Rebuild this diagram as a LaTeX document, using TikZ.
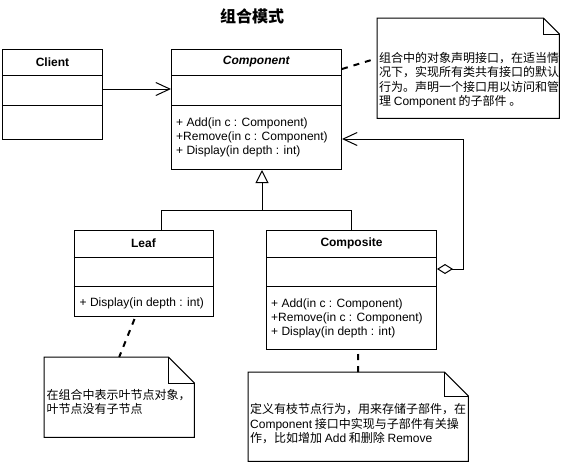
\documentclass[tikz,border=0pt]{standalone}
\usepackage{fontspec}
\setmainfont{Liberation Sans}
\newfontfamily\cjk{Noto Sans CJK SC}
\usetikzlibrary{arrows.meta, positioning, calc}
\newcommand{\notefold}[2]{%
  \draw[line width=1pt, fill=white] (#1.north west) -- ($(#1.north east)+(-#2,0)$)
    -- ($(#1.north east)+(0,#2)$) -- (#1.south east) -- (#1.south west) -- cycle;
  \draw[line width=1pt] ($(#1.north east)+(-#2,0)$) -- ++(0,#2) -- ++(#2,0);}

\begin{document}
\begin{tikzpicture}[
  x=1pt, y=-1pt,
  cls/.style={rectangle, draw, line width=1pt, anchor=north west, inner sep=0pt},
  hdr/.style={font=\fontsize{12}{14}\selectfont\bfseries},
  ops/.style={font=\fontsize{12}{14}\selectfont, align=left, anchor=west, inner sep=0pt},
  notebox/.style={rectangle, anchor=north west, inner sep=0pt},
  notetxt/.style={font=\fontsize{12}{14.5}\selectfont\cjk, align=left, anchor=west, inner sep=0pt},
  sep/.style={line width=1pt},
  assoc/.style={-{Straight Barb[length=14pt, width=13pt]}, line width=1pt},
  inherit/.style={-{Triangle[open, length=13pt, width=13pt]}, line width=1pt},
  aggr/.style={{Diamond[open, length=16pt, width=10pt]}-{Straight Barb[length=14pt, width=13pt]}, line width=1pt},
  notelink/.style={line width=2pt, dash pattern=on 6pt off 6pt}
]
  \useasboundingbox (0,0) rectangle (570,464);

  % Title
  \node[font=\fontsize{16}{18}\selectfont\cjk\bfseries] (title) at (252,16) {组合模式};

  % Row 1: client and component
  \node[cls, minimum width=100pt, minimum height=90pt] (client) at (2,49) {};
  \node[hdr] (clientname) at ($(client.north)+(0,13)$) {Client};

  \node[cls, minimum width=170pt, minimum height=120pt] (component) at (171,49) {};
  \node[hdr] (componentname) at ($(component.north)+(0,13)$) {\textit{Component}};
  \node[ops] (componentops) at ($(component.north west)+(5,88)$)
    {+ Add(in c : Component)\\+Remove(in c : Component)\\+ Display(in depth : int)};

  % Row 2: leaf and composite
  \node[cls, minimum width=139pt, minimum height=86pt] (leaf) at (73.5,230) {};
  \node[hdr] (leafname) at ($(leaf.north)+(0,13)$) {Leaf};
  \node[ops] (leafops) at ($(leaf.north west)+(6,73)$) {+ Display(in depth : int)};

  \node[cls, minimum width=170pt, minimum height=119pt] (composite) at (266,230) {};
  \node[hdr] (compositename) at ($(composite.north)+(0,13)$) {Composite};
  \node[ops] (compositeops) at ($(composite.north west)+(5,88)$)
    {+ Add(in c : Component)\\+Remove(in c : Component)\\+ Display(in depth : int)};

  \foreach \c/\a in {client/26, component/26, leaf/27, composite/27} {
    \draw[sep] ($(\c.north west)+(0,\a)$) -- ($(\c.north east)+(0,\a)$);
    \draw[sep] ($(\c.north west)+(0,56)$) -- ($(\c.north east)+(0,56)$);
  }

  % Connectors
  \draw[assoc] ($(client.north east)+(0,40)$) -- ($(component.north west)+(0,40)$);
  \draw[inherit] ($(leaf.north)+(18,0)$) |- ($(component.south)+(5.5,40)$) -- ($(component.south)+(5.5,0)$);
  \draw[line width=1pt] (composite.north) |- ($(component.south)+(5.5,40)$);
  \draw[aggr] ($(composite.north east)+(0,39)$) -- ++(26,0) |- ($(component.north east)+(0,90)$);

  % Notes
  \node[notebox, minimum width=182pt, minimum height=100pt] (compnote) at (377,18) {};
  \notefold{compnote}{16}
  \node[notetxt] (compnotetxt) at ($(compnote.north west)+(2,62)$)
    {组合中的对象声明接口，在适当情\\况下，实现所有类共有接口的默认\\行为。声明一个接口用以访问和管\\理 \textrm{Component} 的子部件 。};

  \node[notebox, minimum width=150pt, minimum height=80pt] (leafnote) at (44,357) {};
  \notefold{leafnote}{26}
  \node[notetxt] (leafnotetxt) at ($(leafnote.north west)+(2.5,45)$)
    {在组合中表示叶节点对象，\\叶节点没有子节点};

  \node[notebox, minimum width=220pt, minimum height=89pt] (compositenote) at (248,372) {};
  \notefold{compositenote}{24}
  \node[notetxt] (compositenotetxt) at ($(compositenote.north west)+(2,52)$)
    {定义有枝节点行为，用来存储子部件，在\\\textrm{Component} 接口中实现与子部件有关操\\作，比如增加 \textrm{Add} 和删除 \textrm{Remove}};

  % Note links
  \draw[notelink] ($(component.north east)+(0,20)$) -- ($(compnote.west)+(-3,-9)$);
  \draw[notelink] ($(leaf.south)+(-9,2)$) -- (leafnote.north);
  \draw[notelink] ($(composite.south)+(6.5,4)$) -- (compositenote.north);
\end{tikzpicture}
\end{document}
